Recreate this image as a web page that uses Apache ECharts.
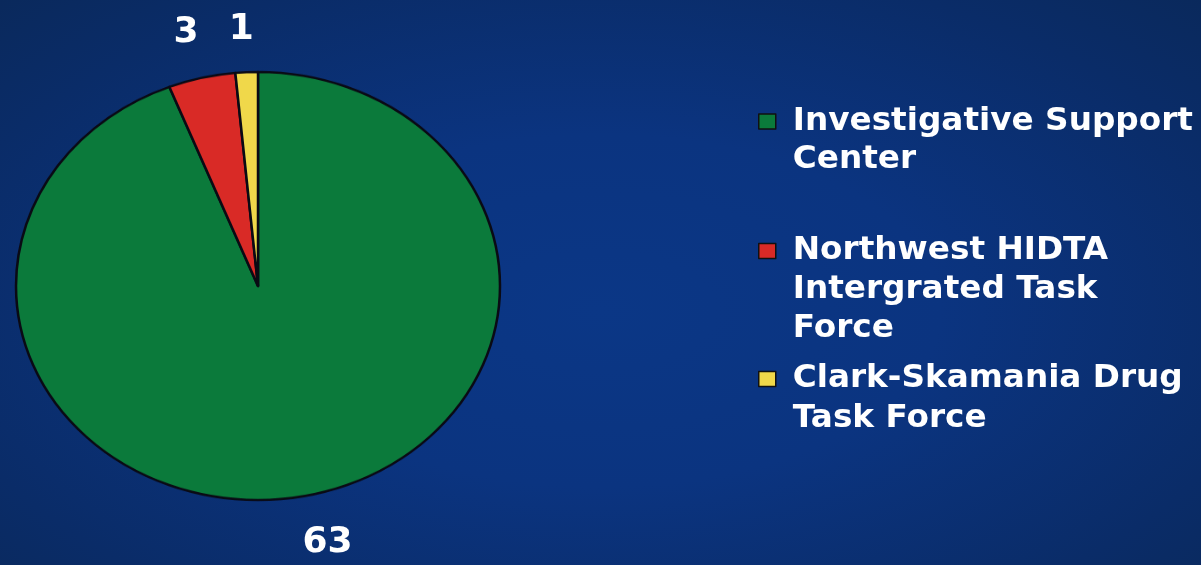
<!DOCTYPE html>
<html>
<head>
<meta charset="utf-8">
<script src="https://cdn.jsdelivr.net/npm/echarts@6/dist/echarts.min.js"></script>
<style>
html,body{margin:0;padding:0;width:1201px;height:565px;overflow:hidden;
  background: radial-gradient(ellipse at 50% 55%, #0b3786 0%, #0b3480 40%, #0a2c68 80%, #0a295c 100%);}
#pie,#over{position:absolute;left:0;top:0;width:1201px;height:565px;}
#pie{transform:scaleY(0.8843);transform-origin:0 286px;}
</style>
</head>
<body>
<div id="pie"></div>
<div id="over"></div>
<script>
const categories = ['Investigative Support Center', 'Northwest HIDTA Intergrated Task Force', 'Clark-Skamania Drug Task Force'];
const legendLabels = ['Investigative Support\nCenter', 'Northwest HIDTA\nIntergrated Task\nForce', 'Clark-Skamania Drug\nTask Force'];
const values = [63, 3, 1];
const colors = ['#0b7a3b', '#d92a26', '#f0d84a'];

const data = categories.map((c, i) => ({ name: c, value: values[i] }));

// Elliptical pie (scaled vertically via CSS)
const pie = echarts.init(document.getElementById('pie'), null, { renderer: 'canvas' });
pie.setOption({
  animation: false,
  backgroundColor: 'transparent',
  color: colors,
  series: [{
    type: 'pie',
    center: [258, 286],
    radius: 242,
    startAngle: 90,
    clockwise: true,
    avoidLabelOverlap: false,
    label: { show: false },
    labelLine: { show: false },
    emphasis: { disabled: true },
    itemStyle: { borderColor: '#0a0a14', borderWidth: 2.5 },
    data: data
  }]
});

// Overlay: labels and legend (unscaled)
const over = echarts.init(document.getElementById('over'), null, { renderer: 'canvas' });
const lineHeights = [38, 39, 40];
const lineCounts = legendLabels.map(s => s.split('\n').length);
const legendTops = [64.5, 153.5, 319];
// small label nudges to follow the elliptical outline of the original
const labelNudge = [[-4, 1], [1, 0], [8, 3]];
over.setOption({
  animation: false,
  backgroundColor: 'transparent',
  color: colors,
  legend: legendLabels.map((lab, i) => ({
    left: 758,
    top: legendTops[i],
    padding: 0,
    icon: 'rect',
    itemWidth: 17,
    itemHeight: 15,
    selectedMode: false,
    itemStyle: { opacity: 1, borderColor: '#111111', borderWidth: 1.5 },
    data: [{ name: categories[i], itemStyle: { color: colors[i], opacity: 1, borderColor: '#111111', borderWidth: 1.5 } }],
    // leading blank lines keep the icon level with the first text line
    formatter: () => '\n'.repeat(lineCounts[i] - 1) + lab,
    textStyle: {
      color: '#ffffff',
      fontSize: 32.7,
      fontWeight: 'bold',
      fontFamily: 'DejaVu Sans',
      lineHeight: lineHeights[i],
      padding: [0, 0, 0, 12]
    }
  })),
  series: [{
    type: 'pie',
    center: [258, 286],
    radius: 220,
    startAngle: 90,
    clockwise: true,
    avoidLabelOverlap: false,
    silent: true,
    itemStyle: { color: 'rgba(0,0,0,0)', borderWidth: 0 },
    emphasis: { disabled: true },
    label: {
      show: true,
      position: 'outside',
      formatter: '{c}',
      color: '#ffffff',
      opacity: 1,
      fontSize: 36,
      fontWeight: 'bold',
      fontFamily: 'DejaVu Sans',
      distanceToLabelLine: 0
    },
    labelLine: { show: false, length: 40, length2: 0 },
    labelLayout: (p) => ({ dx: labelNudge[p.dataIndex][0], dy: labelNudge[p.dataIndex][1] }),
    data: data
  }]
});
</script>
</body>
</html>
